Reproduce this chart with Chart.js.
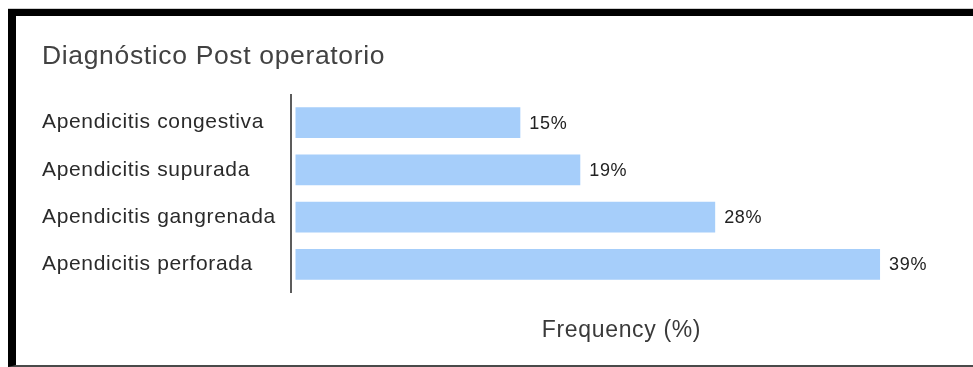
<!DOCTYPE html>
<html>
<head>
<meta charset="utf-8">
<script src="https://cdn.jsdelivr.net/npm/chart.js@4"></script>
<style>
  html, body { margin: 0; padding: 0; background: #fff; }
  body { width: 973px; height: 367px; position: relative; overflow: hidden; }
  #frame {
    position: absolute; left: 8px; top: 9px; right: 0; bottom: 0;
    border-top: 7px solid #000; border-left: 8px solid #000; border-bottom: 2px solid #4a4a4a;
    box-shadow: 0 -1px 0 #cfcfcf;
  }
  #chart { position: absolute; left: 0; top: 0; }
</style>
</head>
<body>
<div id="frame"></div>
<canvas id="chart" width="973" height="367"></canvas>
<script>
// Post-operative diagnosis distribution
const chartTitle = 'Diagnóstico Post operatorio';
const categories = [
  'Apendicitis congestiva',
  'Apendicitis supurada',
  'Apendicitis gangrenada',
  'Apendicitis perforada'
];
const frequencies = [15, 19, 28, 39];
const axisTitle = 'Frequency (%)';

const FONT = '"Liberation Sans", Arial, sans-serif';

// Slightly open tracking for all chart text
const tracking = {
  id: 'tracking',
  beforeDraw(chart) {
    chart.ctx.letterSpacing = '0.65px';
  }
};

// Writes each bar's percentage just past its end
const valueLabels = {
  id: 'valueLabels',
  afterDatasetsDraw(chart) {
    const ctx = chart.ctx;
    const meta = chart.getDatasetMeta(0);
    ctx.save();
    ctx.font = '18px ' + FONT;
    ctx.fillStyle = '#222';
    ctx.textAlign = 'left';
    ctx.textBaseline = 'middle';
    meta.data.forEach((bar, i) => {
      ctx.fillText(frequencies[i] + '%', bar.x + 9, bar.y + 1);
    });
    ctx.restore();
  }
};

// Vertical baseline on the left edge of the plot, slightly taller than the bands
const baseline = {
  id: 'baseline',
  afterDraw(chart) {
    const { ctx, chartArea } = chart;
    ctx.save();
    ctx.strokeStyle = '#5c5c5c';
    ctx.lineWidth = 2;
    ctx.beginPath();
    ctx.moveTo(chartArea.left, chartArea.top - 5);
    ctx.lineTo(chartArea.left, chartArea.bottom + 5);
    ctx.stroke();
    ctx.restore();
  }
};

new Chart(document.getElementById('chart'), {
  type: 'bar',
  data: {
    labels: categories,
    datasets: [{
      data: frequencies,
      backgroundColor: '#a6cefa',
      borderWidth: 0,
      categoryPercentage: 1,
      barPercentage: 0.655
    }]
  },
  options: {
    indexAxis: 'y',
    responsive: false,
    devicePixelRatio: 1,
    animation: false,
    layout: { padding: { left: 42, right: 21, top: 10, bottom: 10 } },
    plugins: {
      legend: { display: false },
      tooltip: { enabled: false },
      title: {
        display: true,
        text: chartTitle,
        align: 'start',
        color: '#424242',
        font: { family: FONT, size: 26.5, weight: 'normal', lineHeight: 1.2 },
        padding: { top: 31, bottom: 26.2 }
      }
    },
    scales: {
      x: {
        type: 'linear',
        min: -0.3,
        max: 43.8,
        grid: { display: false, drawTicks: false },
        border: { display: false },
        ticks: { display: false },
        title: {
          display: true,
          text: axisTitle,
          color: '#3a3a3a',
          font: { family: FONT, size: 23, weight: 'normal', lineHeight: 1.2 },
          padding: { top: 29.2, bottom: 12.2 }
        }
      },
      y: {
        grid: { display: false, drawTicks: false },
        border: { display: false },
        ticks: {
          crossAlign: 'far',
          color: '#2a2a2a',
          padding: 0,
          font: { family: FONT, size: 21, weight: 'normal' }
        },
        afterFit(scale) { scale.width = 249; }
      }
    }
  },
  plugins: [tracking, valueLabels, baseline]
});
</script>
</body>
</html>
